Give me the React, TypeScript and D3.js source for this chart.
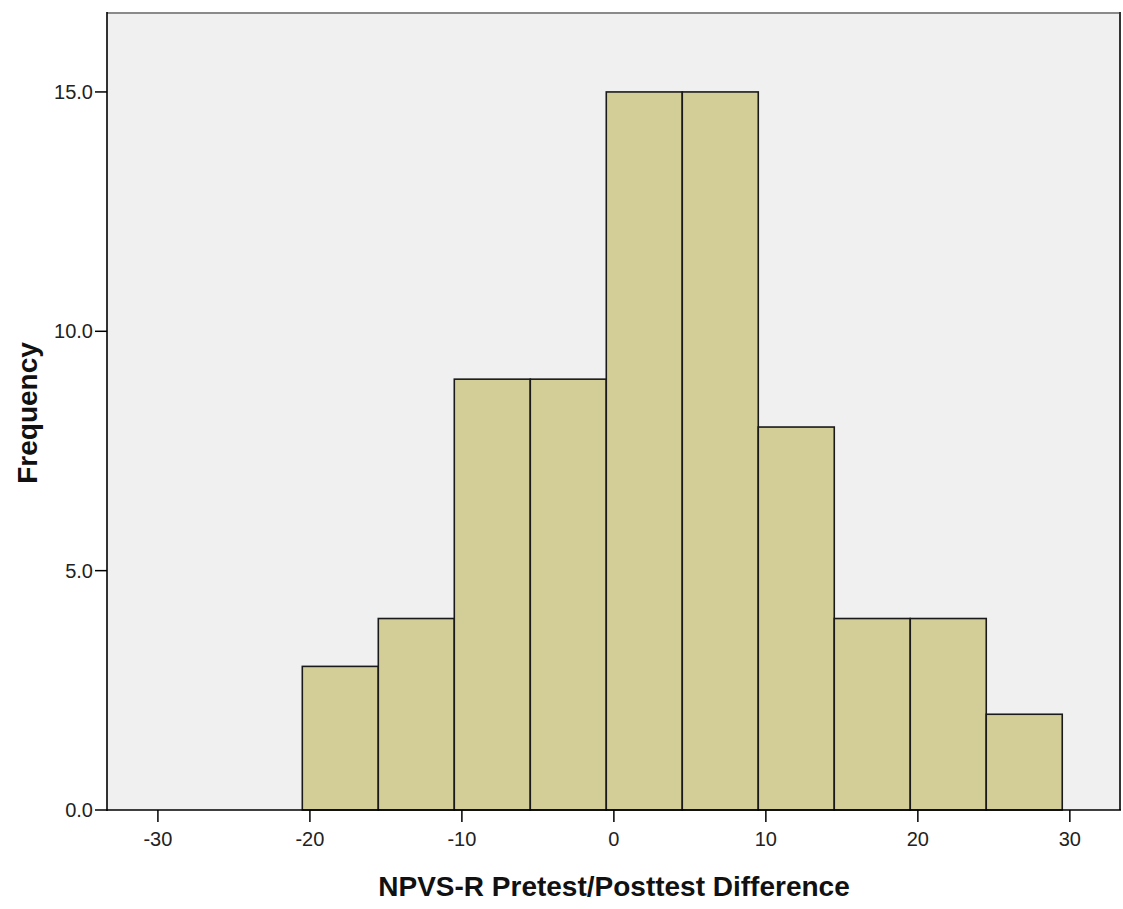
import React from "react";
import { scaleLinear } from "d3";

// histogram bins (lower edge, upper edge) and counts
const binStarts = [-20.5, -15.5, -10.5, -5.5, -0.5, 4.5, 9.5, 14.5, 19.5, 24.5];
const binWidth = 5;
const counts = [3, 4, 9, 9, 15, 15, 8, 4, 4, 2];
const xTicks = [-30, -20, -10, 0, 10, 20, 30];
const yTicks = [0, 5, 10, 15];

const App = () => {
    const width = 1123;
    const height = 909;
    const plot = { left: 107, right: 1120, top: 12, bottom: 810 };

    const x = scaleLinear().domain([-33.35, 33.3]).range([plot.left, plot.right]);
    const y = scaleLinear().domain([0, 16.67]).range([plot.bottom, plot.top]);

    const font = "'Liberation Sans', Arial, sans-serif";

    return (
        <svg width={width} height={height} style={{ position: "absolute", left: 0, top: 0, background: "#fff" }}>
            <rect x={plot.left} y={plot.top} width={plot.right - plot.left} height={plot.bottom - plot.top} fill="#f0f0f0" />

            {binStarts.map((b, i) =>
                <rect key={i}
                    x={x(b)}
                    y={y(counts[i])}
                    width={x(b + binWidth) - x(b)}
                    height={y(0) - y(counts[i])}
                    fill="#d3ce98"
                    stroke="#1a1a1a"
                    strokeWidth={1.6} />
            )}

            {/* frame */}
            <line x1={plot.left} x2={plot.right + 1} y1={plot.top + 1} y2={plot.top + 1} stroke="#8a8a8a" strokeWidth={2} />
            <line x1={plot.right} x2={plot.right} y1={plot.top} y2={plot.bottom} stroke="#333" strokeWidth={2} />
            <line x1={plot.left} x2={plot.left} y1={plot.top} y2={plot.bottom + 1} stroke="#000" strokeWidth={1.6} />
            <line x1={plot.left} x2={plot.right + 1} y1={plot.bottom} y2={plot.bottom} stroke="#000" strokeWidth={1.6} />

            {yTicks.map(t =>
                <g key={t} transform={`translate(0,${y(t)})`}>
                    <line x1={95} x2={plot.left} stroke="#000" strokeWidth={1.5} />
                    <text x={93} dy="0.35em" textAnchor="end" fontFamily={font} fontSize={20} fill="#222">{t.toFixed(1)}</text>
                </g>
            )}

            {xTicks.map(t =>
                <g key={t} transform={`translate(${x(t)},0)`}>
                    <line y1={plot.bottom} y2={plot.bottom + 12} stroke="#000" strokeWidth={1.5} />
                    <text y={846} textAnchor="middle" fontFamily={font} fontSize={20} fill="#222">{t}</text>
                </g>
            )}

            <text x={614} y={896} textAnchor="middle" fontFamily={font} fontSize={28} fontWeight="bold" fill="#111">NPVS-R Pretest/Posttest Difference</text>
            <text transform="translate(37,413) rotate(-90)" textAnchor="middle" fontFamily={font} fontSize={28} fontWeight="bold" fill="#111">Frequency</text>
        </svg>
    );
};

export default App;
